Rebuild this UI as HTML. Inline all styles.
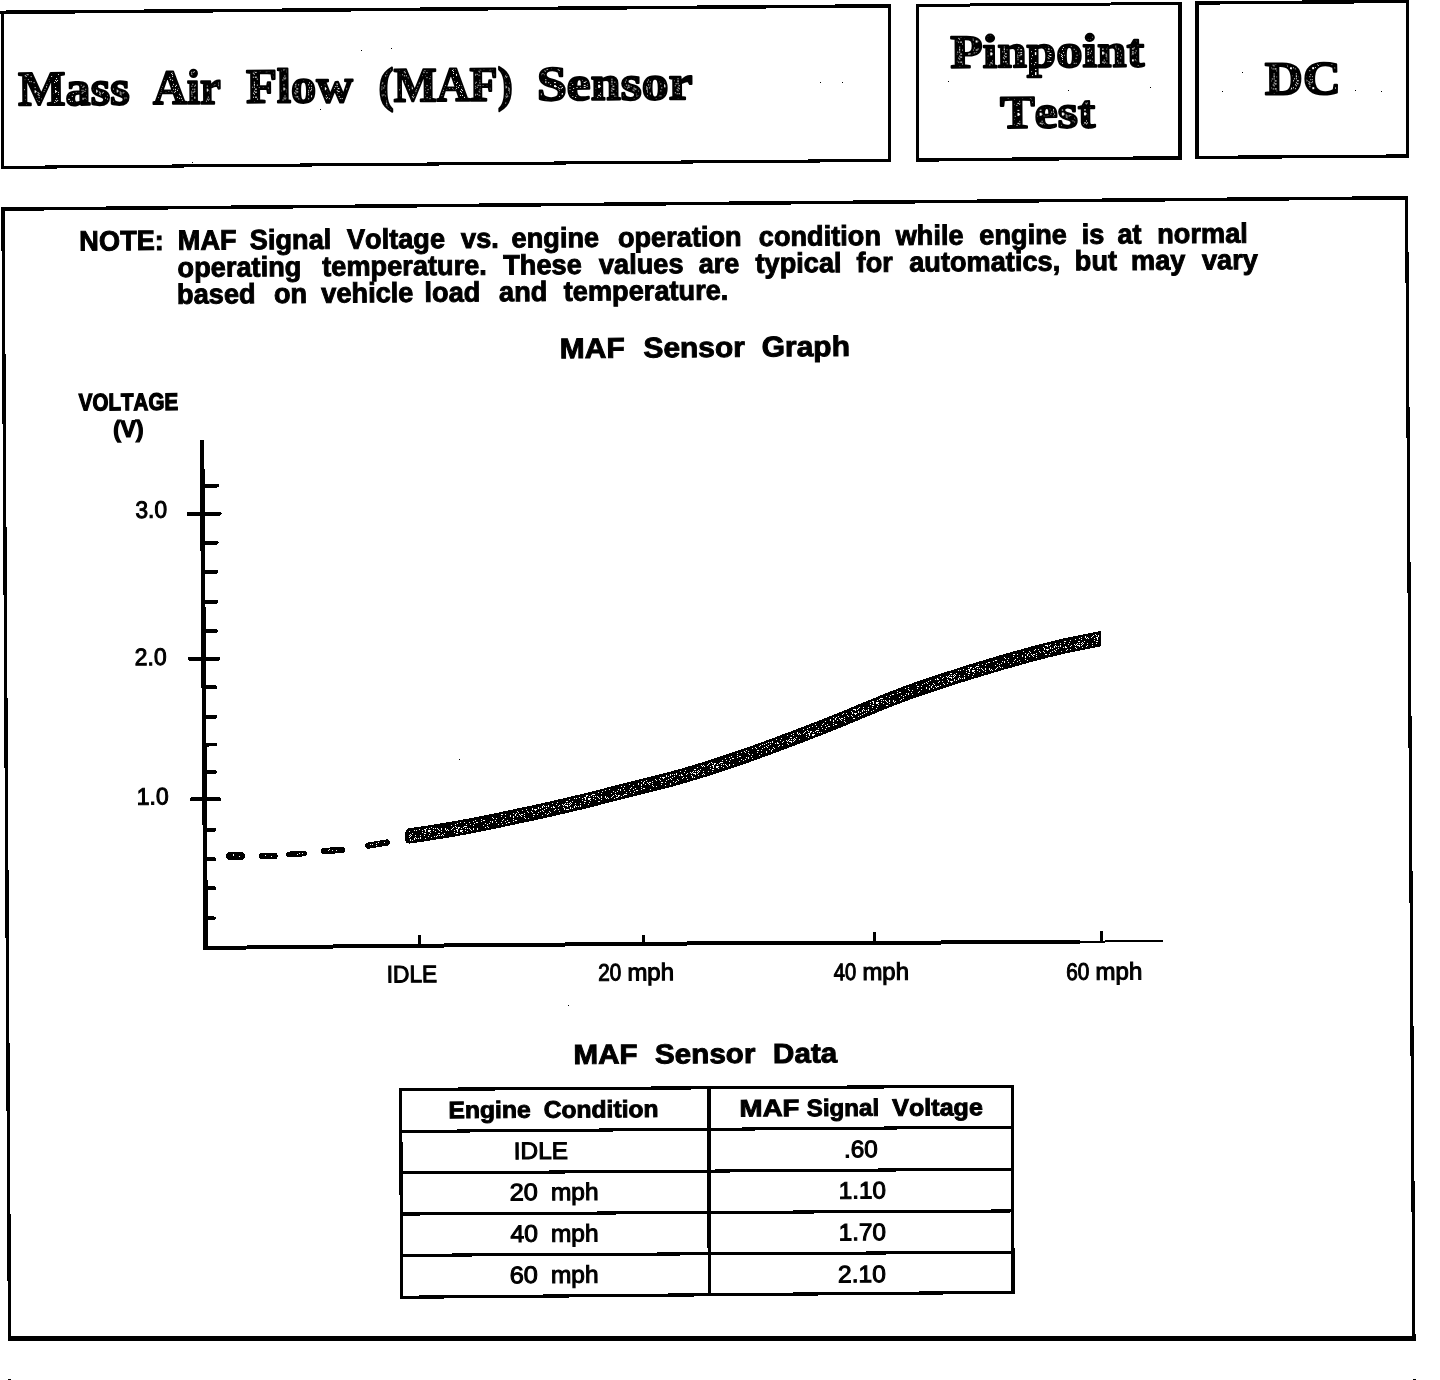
<!DOCTYPE html>
<html lang="en">
<head>
<meta charset="utf-8">
<title>Mass Air Flow (MAF) Sensor - Pinpoint Test DC</title>
<style>
html,body{margin:0;padding:0;background:#fff;}
body{width:1440px;height:1380px;overflow:hidden;}
svg{display:block;}
text{font-kerning:none;white-space:pre;}
.sb{font-family:"Liberation Sans", Arial, Helvetica, sans-serif;font-weight:700;stroke:#000;}
.sn{font-family:"Liberation Sans", Arial, Helvetica, sans-serif;font-weight:400;stroke:#000;}
.rb{font-family:"Liberation Serif", "Times New Roman", serif;font-weight:700;stroke:#000;stroke-linejoin:round;}
</style>
</head>
<body>
<svg width="1440" height="1380" viewBox="0 0 1440 1380" shape-rendering="crispEdges" text-rendering="geometricPrecision">
<defs>
<pattern id="sp1" width="32" height="32" patternUnits="userSpaceOnUse"><rect width="32" height="32" fill="#000"/><rect x="20" y="9" width="1" height="1" fill="#fff"/><rect x="25" y="3" width="1" height="1" fill="#fff"/><rect x="4" y="6" width="1" height="1" fill="#fff"/><rect x="23" y="3" width="1" height="1" fill="#fff"/><rect x="13" y="2" width="1" height="1" fill="#fff"/><rect x="5" y="27" width="1" height="1" fill="#fff"/><rect x="26" y="4" width="1" height="1" fill="#fff"/><rect x="15" y="5" width="1" height="1" fill="#fff"/><rect x="27" y="3" width="1" height="1" fill="#fff"/><rect x="7" y="14" width="1" height="1" fill="#fff"/><rect x="3" y="25" width="1" height="1" fill="#fff"/><rect x="3" y="14" width="1" height="1" fill="#fff"/><rect x="2" y="8" width="1" height="1" fill="#fff"/><rect x="18" y="26" width="1" height="1" fill="#fff"/><rect x="9" y="7" width="1" height="1" fill="#fff"/><rect x="19" y="11" width="1" height="1" fill="#fff"/><rect x="6" y="12" width="1" height="1" fill="#fff"/><rect x="23" y="6" width="1" height="1" fill="#fff"/><rect x="4" y="3" width="1" height="1" fill="#fff"/><rect x="13" y="31" width="1" height="1" fill="#fff"/><rect x="27" y="20" width="1" height="1" fill="#fff"/><rect x="29" y="29" width="1" height="1" fill="#fff"/><rect x="23" y="19" width="1" height="1" fill="#fff"/><rect x="15" y="11" width="1" height="1" fill="#fff"/><rect x="15" y="5" width="1" height="1" fill="#fff"/><rect x="19" y="31" width="1" height="1" fill="#fff"/><rect x="21" y="28" width="1" height="1" fill="#fff"/><rect x="18" y="4" width="1" height="1" fill="#fff"/><rect x="7" y="26" width="1" height="1" fill="#fff"/><rect x="10" y="21" width="1" height="1" fill="#fff"/><rect x="9" y="31" width="1" height="1" fill="#fff"/><rect x="26" y="2" width="1" height="1" fill="#fff"/><rect x="4" y="20" width="1" height="1" fill="#fff"/><rect x="21" y="22" width="1" height="1" fill="#fff"/><rect x="31" y="29" width="1" height="1" fill="#fff"/><rect x="4" y="5" width="1" height="1" fill="#fff"/><rect x="17" y="30" width="1" height="1" fill="#fff"/><rect x="4" y="3" width="1" height="1" fill="#fff"/><rect x="19" y="28" width="1" height="1" fill="#fff"/><rect x="18" y="24" width="1" height="1" fill="#fff"/><rect x="22" y="1" width="1" height="1" fill="#fff"/><rect x="29" y="22" width="1" height="1" fill="#fff"/><rect x="10" y="7" width="1" height="1" fill="#fff"/><rect x="31" y="3" width="1" height="1" fill="#fff"/><rect x="13" y="18" width="1" height="1" fill="#fff"/><rect x="8" y="15" width="1" height="1" fill="#fff"/><rect x="25" y="25" width="1" height="1" fill="#fff"/><rect x="31" y="5" width="1" height="1" fill="#fff"/><rect x="10" y="28" width="1" height="1" fill="#fff"/><rect x="25" y="17" width="1" height="1" fill="#fff"/><rect x="8" y="27" width="1" height="1" fill="#fff"/><rect x="17" y="26" width="1" height="1" fill="#fff"/><rect x="22" y="24" width="1" height="1" fill="#fff"/><rect x="14" y="9" width="1" height="1" fill="#fff"/><rect x="5" y="11" width="1" height="1" fill="#fff"/><rect x="9" y="14" width="1" height="1" fill="#fff"/><rect x="14" y="0" width="1" height="1" fill="#fff"/><rect x="31" y="11" width="1" height="1" fill="#fff"/><rect x="16" y="18" width="1" height="1" fill="#fff"/><rect x="0" y="9" width="1" height="1" fill="#fff"/><rect x="26" y="23" width="1" height="1" fill="#fff"/><rect x="20" y="8" width="1" height="1" fill="#fff"/><rect x="3" y="29" width="1" height="1" fill="#fff"/><rect x="25" y="25" width="1" height="1" fill="#fff"/><rect x="25" y="25" width="1" height="1" fill="#fff"/><rect x="6" y="30" width="1" height="1" fill="#fff"/><rect x="25" y="3" width="1" height="1" fill="#fff"/><rect x="12" y="4" width="1" height="1" fill="#fff"/><rect x="13" y="28" width="1" height="1" fill="#fff"/><rect x="10" y="7" width="1" height="1" fill="#fff"/><rect x="21" y="3" width="1" height="1" fill="#fff"/><rect x="6" y="0" width="1" height="1" fill="#fff"/><rect x="9" y="6" width="1" height="1" fill="#fff"/><rect x="23" y="1" width="1" height="1" fill="#fff"/><rect x="4" y="13" width="1" height="1" fill="#fff"/><rect x="24" y="9" width="1" height="1" fill="#fff"/><rect x="16" y="22" width="1" height="1" fill="#fff"/><rect x="23" y="30" width="1" height="1" fill="#fff"/><rect x="7" y="7" width="1" height="1" fill="#fff"/><rect x="31" y="29" width="1" height="1" fill="#fff"/><rect x="30" y="30" width="1" height="1" fill="#fff"/><rect x="19" y="5" width="1" height="1" fill="#fff"/><rect x="9" y="6" width="1" height="1" fill="#fff"/><rect x="21" y="16" width="1" height="1" fill="#fff"/><rect x="30" y="10" width="1" height="1" fill="#fff"/><rect x="1" y="13" width="1" height="1" fill="#fff"/><rect x="23" y="9" width="1" height="1" fill="#fff"/><rect x="1" y="19" width="1" height="1" fill="#fff"/><rect x="5" y="16" width="1" height="1" fill="#fff"/><rect x="23" y="10" width="1" height="1" fill="#fff"/><rect x="22" y="14" width="1" height="1" fill="#fff"/><rect x="21" y="14" width="1" height="1" fill="#fff"/><rect x="12" y="15" width="1" height="1" fill="#fff"/><rect x="25" y="14" width="1" height="1" fill="#fff"/><rect x="12" y="31" width="1" height="1" fill="#fff"/><rect x="22" y="1" width="1" height="1" fill="#fff"/><rect x="1" y="17" width="1" height="1" fill="#fff"/><rect x="30" y="16" width="1" height="1" fill="#fff"/><rect x="12" y="22" width="1" height="1" fill="#fff"/><rect x="28" y="22" width="1" height="1" fill="#fff"/><rect x="23" y="5" width="1" height="1" fill="#fff"/><rect x="14" y="6" width="1" height="1" fill="#fff"/><rect x="14" y="30" width="1" height="1" fill="#fff"/><rect x="12" y="21" width="1" height="1" fill="#fff"/><rect x="13" y="30" width="1" height="1" fill="#fff"/><rect x="0" y="30" width="1" height="1" fill="#fff"/><rect x="22" y="5" width="1" height="1" fill="#fff"/><rect x="7" y="24" width="1" height="1" fill="#fff"/><rect x="12" y="30" width="1" height="1" fill="#fff"/><rect x="11" y="27" width="1" height="1" fill="#fff"/><rect x="21" y="5" width="1" height="1" fill="#fff"/><rect x="25" y="29" width="1" height="1" fill="#fff"/><rect x="25" y="5" width="1" height="1" fill="#fff"/><rect x="10" y="10" width="1" height="1" fill="#fff"/><rect x="8" y="1" width="1" height="1" fill="#fff"/><rect x="9" y="29" width="1" height="1" fill="#fff"/><rect x="9" y="30" width="1" height="1" fill="#fff"/><rect x="22" y="9" width="1" height="1" fill="#fff"/><rect x="8" y="1" width="1" height="1" fill="#fff"/><rect x="0" y="6" width="1" height="1" fill="#fff"/><rect x="8" y="27" width="1" height="1" fill="#fff"/><rect x="12" y="13" width="1" height="1" fill="#fff"/><rect x="1" y="16" width="1" height="1" fill="#fff"/><rect x="13" y="18" width="1" height="1" fill="#fff"/><rect x="15" y="20" width="1" height="1" fill="#fff"/><rect x="16" y="26" width="1" height="1" fill="#fff"/><rect x="8" y="3" width="1" height="1" fill="#fff"/><rect x="22" y="29" width="1" height="1" fill="#fff"/><rect x="26" y="8" width="1" height="1" fill="#fff"/><rect x="9" y="1" width="1" height="1" fill="#fff"/><rect x="28" y="11" width="1" height="1" fill="#fff"/><rect x="0" y="9" width="1" height="1" fill="#fff"/><rect x="11" y="9" width="1" height="1" fill="#fff"/><rect x="30" y="7" width="1" height="1" fill="#fff"/><rect x="3" y="20" width="1" height="1" fill="#fff"/><rect x="30" y="6" width="1" height="1" fill="#fff"/><rect x="3" y="15" width="1" height="1" fill="#fff"/><rect x="12" y="17" width="1" height="1" fill="#fff"/><rect x="2" y="6" width="1" height="1" fill="#fff"/><rect x="28" y="1" width="1" height="1" fill="#fff"/><rect x="4" y="28" width="1" height="1" fill="#fff"/><rect x="20" y="12" width="1" height="1" fill="#fff"/><rect x="17" y="28" width="1" height="1" fill="#fff"/><rect x="30" y="15" width="1" height="1" fill="#fff"/><rect x="16" y="12" width="1" height="1" fill="#fff"/><rect x="28" y="8" width="1" height="1" fill="#fff"/><rect x="26" y="7" width="1" height="1" fill="#fff"/><rect x="25" y="28" width="1" height="1" fill="#fff"/><rect x="20" y="4" width="1" height="1" fill="#fff"/><rect x="15" y="27" width="1" height="1" fill="#fff"/><rect x="4" y="13" width="1" height="1" fill="#fff"/><rect x="19" y="7" width="1" height="1" fill="#fff"/><rect x="9" y="23" width="1" height="1" fill="#fff"/><rect x="9" y="16" width="1" height="1" fill="#fff"/><rect x="8" y="29" width="1" height="1" fill="#fff"/><rect x="14" y="6" width="1" height="1" fill="#fff"/><rect x="25" y="31" width="1" height="1" fill="#fff"/><rect x="10" y="14" width="1" height="1" fill="#fff"/><rect x="10" y="27" width="1" height="1" fill="#fff"/><rect x="25" y="21" width="1" height="1" fill="#fff"/><rect x="26" y="12" width="1" height="1" fill="#fff"/><rect x="22" y="20" width="1" height="1" fill="#fff"/><rect x="5" y="23" width="1" height="1" fill="#fff"/><rect x="1" y="21" width="1" height="1" fill="#fff"/><rect x="29" y="28" width="1" height="1" fill="#fff"/></pattern>
<pattern id="sp2" width="20" height="20" patternUnits="userSpaceOnUse"><rect width="20" height="20" fill="#000"/><rect x="0" y="12" width="1" height="1" fill="#fff"/><rect x="10" y="16" width="1" height="1" fill="#fff"/><rect x="19" y="9" width="1" height="1" fill="#fff"/><rect x="16" y="2" width="1" height="1" fill="#fff"/><rect x="3" y="7" width="1" height="1" fill="#fff"/><rect x="3" y="2" width="1" height="1" fill="#fff"/><rect x="8" y="8" width="1" height="1" fill="#fff"/><rect x="1" y="5" width="1" height="1" fill="#fff"/><rect x="8" y="4" width="1" height="1" fill="#fff"/><rect x="13" y="8" width="1" height="1" fill="#fff"/><rect x="12" y="4" width="1" height="1" fill="#fff"/><rect x="17" y="16" width="1" height="1" fill="#fff"/><rect x="18" y="15" width="1" height="1" fill="#fff"/><rect x="10" y="2" width="1" height="1" fill="#fff"/><rect x="8" y="1" width="1" height="1" fill="#fff"/><rect x="5" y="13" width="1" height="1" fill="#fff"/><rect x="2" y="8" width="1" height="1" fill="#fff"/><rect x="0" y="2" width="1" height="1" fill="#fff"/><rect x="8" y="2" width="1" height="1" fill="#fff"/><rect x="19" y="7" width="1" height="1" fill="#fff"/><rect x="2" y="8" width="1" height="1" fill="#fff"/><rect x="3" y="14" width="1" height="1" fill="#fff"/><rect x="0" y="10" width="1" height="1" fill="#fff"/><rect x="17" y="13" width="1" height="1" fill="#fff"/><rect x="8" y="19" width="1" height="1" fill="#fff"/><rect x="4" y="1" width="1" height="1" fill="#fff"/><rect x="16" y="7" width="1" height="1" fill="#fff"/><rect x="3" y="5" width="1" height="1" fill="#fff"/><rect x="8" y="1" width="1" height="1" fill="#fff"/><rect x="5" y="6" width="1" height="1" fill="#fff"/><rect x="9" y="9" width="1" height="1" fill="#fff"/><rect x="16" y="6" width="1" height="1" fill="#fff"/><rect x="9" y="14" width="1" height="1" fill="#fff"/><rect x="16" y="5" width="1" height="1" fill="#fff"/><rect x="8" y="11" width="1" height="1" fill="#fff"/><rect x="0" y="8" width="1" height="1" fill="#fff"/><rect x="1" y="0" width="1" height="1" fill="#fff"/><rect x="0" y="16" width="1" height="1" fill="#fff"/><rect x="17" y="6" width="1" height="1" fill="#fff"/><rect x="16" y="15" width="1" height="1" fill="#fff"/><rect x="7" y="14" width="1" height="1" fill="#fff"/><rect x="3" y="13" width="1" height="1" fill="#fff"/><rect x="15" y="17" width="1" height="1" fill="#fff"/><rect x="12" y="16" width="1" height="1" fill="#fff"/><rect x="9" y="6" width="1" height="1" fill="#fff"/><rect x="7" y="10" width="1" height="1" fill="#fff"/><rect x="6" y="4" width="1" height="1" fill="#fff"/><rect x="12" y="11" width="1" height="1" fill="#fff"/></pattern>
<pattern id="sp3" width="16" height="16" patternUnits="userSpaceOnUse"><rect width="16" height="16" fill="#000"/><rect x="1" y="4" width="1" height="1" fill="#fff"/><rect x="0" y="2" width="1" height="1" fill="#fff"/><rect x="8" y="13" width="1" height="1" fill="#fff"/><rect x="5" y="1" width="1" height="1" fill="#fff"/><rect x="2" y="12" width="1" height="1" fill="#fff"/><rect x="9" y="7" width="1" height="1" fill="#fff"/><rect x="9" y="1" width="1" height="1" fill="#fff"/><rect x="14" y="5" width="1" height="1" fill="#fff"/><rect x="5" y="8" width="1" height="1" fill="#fff"/><rect x="14" y="0" width="1" height="1" fill="#fff"/><rect x="8" y="11" width="1" height="1" fill="#fff"/><rect x="10" y="10" width="1" height="1" fill="#fff"/><rect x="7" y="1" width="1" height="1" fill="#fff"/><rect x="9" y="6" width="1" height="1" fill="#fff"/><rect x="11" y="5" width="1" height="1" fill="#fff"/><rect x="0" y="10" width="1" height="1" fill="#fff"/><rect x="12" y="2" width="1" height="1" fill="#fff"/><rect x="15" y="8" width="1" height="1" fill="#fff"/><rect x="6" y="7" width="1" height="1" fill="#fff"/><rect x="0" y="2" width="1" height="1" fill="#fff"/><rect x="8" y="2" width="1" height="1" fill="#fff"/><rect x="4" y="12" width="1" height="1" fill="#fff"/></pattern>
</defs>
<rect width="1440" height="1380" fill="#fff"/>
<g id="lines">
<line x1="2.30" y1="10.70" x2="2.60" y2="169.00" stroke="#000" stroke-width="3.6" stroke-linecap="butt"/>
<line x1="0.00" y1="12.30" x2="890.80" y2="5.85" stroke="#000" stroke-width="3.5" stroke-linecap="butt"/>
<line x1="889.40" y1="3.90" x2="889.50" y2="161.90" stroke="#000" stroke-width="2.9" stroke-linecap="butt"/>
<line x1="1.00" y1="167.40" x2="891.00" y2="160.40" stroke="#000" stroke-width="3.1" stroke-linecap="butt"/>
<line x1="917.50" y1="3.90" x2="917.60" y2="161.90" stroke="#000" stroke-width="3" stroke-linecap="butt"/>
<line x1="916.00" y1="5.40" x2="1182.00" y2="3.50" stroke="#000" stroke-width="3" stroke-linecap="butt"/>
<line x1="1180.00" y1="2.00" x2="1180.00" y2="160.00" stroke="#000" stroke-width="3.9" stroke-linecap="butt"/>
<line x1="916.10" y1="160.00" x2="1182.00" y2="157.80" stroke="#000" stroke-width="3.4" stroke-linecap="butt"/>
<line x1="1196.95" y1="1.00" x2="1196.95" y2="159.00" stroke="#000" stroke-width="3.9" stroke-linecap="butt"/>
<line x1="1195.00" y1="3.00" x2="1409.00" y2="1.40" stroke="#000" stroke-width="3.4" stroke-linecap="butt"/>
<line x1="1407.50" y1="0.00" x2="1407.50" y2="158.00" stroke="#000" stroke-width="3" stroke-linecap="butt"/>
<line x1="1195.00" y1="157.45" x2="1409.00" y2="156.00" stroke="#000" stroke-width="3.3" stroke-linecap="butt"/>
<line x1="1.00" y1="209.10" x2="1408.20" y2="197.80" stroke="#000" stroke-width="3.5" stroke-linecap="butt"/>
<line x1="2.95" y1="207.30" x2="9.55" y2="1340.70" stroke="#000" stroke-width="3.4" stroke-linecap="butt"/>
<line x1="1406.55" y1="196.00" x2="1413.95" y2="1340.70" stroke="#000" stroke-width="3.2" stroke-linecap="butt"/>
<line x1="8.00" y1="1338.25" x2="1415.70" y2="1338.25" stroke="#000" stroke-width="4.9" stroke-linecap="butt"/>
<line x1="9.50" y1="1378.60" x2="9.50" y2="1380.00" stroke="#000" stroke-width="3" stroke-linecap="butt"/>
<line x1="1414.50" y1="1378.60" x2="1414.50" y2="1380.00" stroke="#000" stroke-width="3" stroke-linecap="butt"/>
<line x1="202.00" y1="440.00" x2="205.72" y2="950.00" stroke="#000" stroke-width="4.6" stroke-linecap="butt"/>
<path d="M203.5 948 L360 946.2 L700 943.4 L1080 942" fill="none" stroke="#000" stroke-width="4"/>
<line x1="1078.00" y1="941.60" x2="1162.50" y2="941.30" stroke="#000" stroke-width="2" stroke-linecap="round"/>
<line x1="202.33" y1="485.80" x2="217.19" y2="485.70" stroke="#000" stroke-width="3.7" stroke-linecap="round"/>
<line x1="202.75" y1="542.80" x2="216.76" y2="542.70" stroke="#000" stroke-width="3.7" stroke-linecap="round"/>
<line x1="202.96" y1="572.00" x2="216.54" y2="571.90" stroke="#000" stroke-width="3.7" stroke-linecap="round"/>
<line x1="203.18" y1="602.00" x2="216.31" y2="601.90" stroke="#000" stroke-width="3.7" stroke-linecap="round"/>
<line x1="203.40" y1="631.20" x2="216.09" y2="631.10" stroke="#000" stroke-width="3.7" stroke-linecap="round"/>
<line x1="203.80" y1="687.20" x2="215.66" y2="687.10" stroke="#000" stroke-width="3.7" stroke-linecap="round"/>
<line x1="204.02" y1="717.00" x2="215.43" y2="716.90" stroke="#000" stroke-width="3.7" stroke-linecap="round"/>
<line x1="204.22" y1="744.70" x2="215.22" y2="744.60" stroke="#000" stroke-width="3.7" stroke-linecap="round"/>
<line x1="204.42" y1="772.00" x2="215.01" y2="771.90" stroke="#000" stroke-width="3.7" stroke-linecap="round"/>
<line x1="204.85" y1="830.00" x2="214.57" y2="829.90" stroke="#000" stroke-width="3.7" stroke-linecap="round"/>
<line x1="205.06" y1="859.20" x2="214.35" y2="859.10" stroke="#000" stroke-width="3.7" stroke-linecap="round"/>
<line x1="205.27" y1="888.30" x2="214.13" y2="888.20" stroke="#000" stroke-width="3.7" stroke-linecap="round"/>
<line x1="205.49" y1="918.30" x2="213.90" y2="918.20" stroke="#000" stroke-width="3.7" stroke-linecap="round"/>
<line x1="188.40" y1="514.00" x2="219.70" y2="513.80" stroke="#000" stroke-width="3.9" stroke-linecap="round"/>
<line x1="189.80" y1="658.90" x2="218.20" y2="658.70" stroke="#000" stroke-width="3.9" stroke-linecap="round"/>
<line x1="191.50" y1="799.30" x2="219.30" y2="799.10" stroke="#000" stroke-width="3.9" stroke-linecap="round"/>
<line x1="419.50" y1="934.50" x2="419.50" y2="946.00" stroke="#000" stroke-width="3" stroke-linecap="butt"/>
<line x1="643.50" y1="934.50" x2="643.50" y2="944.00" stroke="#000" stroke-width="3" stroke-linecap="butt"/>
<line x1="874.50" y1="932.00" x2="874.50" y2="942.50" stroke="#000" stroke-width="3" stroke-linecap="butt"/>
<line x1="1101.50" y1="931.25" x2="1101.50" y2="942.00" stroke="#000" stroke-width="3" stroke-linecap="butt"/>
<line x1="230.00" y1="856.00" x2="241.00" y2="856.00" stroke="#000" stroke-width="8" stroke-linecap="round"/>
<line x1="231.00" y1="856.00" x2="240.00" y2="856.00" stroke="url(#sp3)" stroke-width="4.6" stroke-linecap="butt"/>
<line x1="262.10" y1="856.00" x2="274.65" y2="856.00" stroke="#000" stroke-width="6.2" stroke-linecap="round"/>
<line x1="263.10" y1="856.00" x2="273.65" y2="856.00" stroke="url(#sp3)" stroke-width="2.8" stroke-linecap="butt"/>
<line x1="288.80" y1="854.40" x2="304.20" y2="853.60" stroke="#000" stroke-width="5.6" stroke-linecap="round"/>
<line x1="289.80" y1="854.40" x2="303.20" y2="853.60" stroke="url(#sp3)" stroke-width="2.2" stroke-linecap="butt"/>
<line x1="324.20" y1="851.25" x2="341.80" y2="849.75" stroke="#000" stroke-width="6.4" stroke-linecap="round"/>
<line x1="325.20" y1="851.25" x2="340.80" y2="849.75" stroke="url(#sp3)" stroke-width="3.0" stroke-linecap="butt"/>
<line x1="368.10" y1="845.60" x2="386.90" y2="842.50" stroke="#000" stroke-width="6.2" stroke-linecap="round"/>
<line x1="369.10" y1="845.60" x2="385.90" y2="842.50" stroke="url(#sp3)" stroke-width="2.8" stroke-linecap="butt"/>
<path d="M409.1 829.4 L411.5 829.1 L416.5 828.4 L421.5 827.6 L426.5 826.9 L431.4 826.1 L436.4 825.3 L441.4 824.5 L446.4 823.7 L451.4 822.9 L456.4 822.0 L461.4 821.1 L466.4 820.2 L471.3 819.3 L476.3 818.3 L481.3 817.3 L486.3 816.3 L491.3 815.3 L496.3 814.2 L501.3 813.2 L506.3 812.1 L511.2 811.1 L516.2 810.0 L521.2 808.9 L526.2 807.9 L531.2 806.8 L536.2 805.7 L541.2 804.6 L546.2 803.5 L551.1 802.4 L556.1 801.2 L561.1 800.1 L566.1 798.9 L571.1 797.8 L576.1 796.6 L581.1 795.4 L586.1 794.2 L591.0 793.0 L596.0 791.7 L601.0 790.4 L606.0 789.1 L611.0 787.7 L616.0 786.4 L621.0 785.2 L626.0 783.9 L630.9 782.7 L635.9 781.5 L640.9 780.3 L645.9 779.0 L650.9 777.8 L655.9 776.6 L660.9 775.3 L665.9 774.0 L670.9 772.7 L675.8 771.4 L680.8 770.0 L685.8 768.5 L690.8 767.0 L695.8 765.5 L700.8 764.0 L705.8 762.5 L710.8 760.9 L715.7 759.3 L720.7 757.7 L725.7 756.0 L730.7 754.3 L735.7 752.7 L740.7 751.0 L745.7 749.2 L750.7 747.5 L755.6 745.7 L760.6 743.9 L765.6 742.1 L770.6 740.2 L775.6 738.4 L780.6 736.5 L785.6 734.6 L790.6 732.8 L795.5 730.9 L800.5 729.0 L805.5 727.1 L810.5 725.2 L815.5 723.2 L820.5 721.3 L825.5 719.3 L830.5 717.3 L835.4 715.3 L840.4 713.3 L845.4 711.3 L850.4 709.2 L855.4 707.1 L860.4 705.0 L865.4 703.0 L870.4 700.9 L875.4 698.9 L880.3 696.8 L885.3 694.8 L890.3 692.8 L895.3 690.9 L900.3 689.0 L905.3 687.1 L910.3 685.3 L915.3 683.5 L920.2 681.8 L925.2 680.1 L930.2 678.4 L935.2 676.8 L940.2 675.1 L945.2 673.5 L950.2 671.9 L955.2 670.3 L960.1 668.7 L965.1 667.1 L970.1 665.5 L975.1 664.0 L980.1 662.5 L985.1 661.0 L990.1 659.5 L995.1 658.0 L1000.0 656.6 L1005.0 655.1 L1010.0 653.7 L1015.0 652.3 L1020.0 650.9 L1025.0 649.5 L1030.0 648.1 L1035.0 646.8 L1039.9 645.5 L1044.9 644.2 L1049.9 642.9 L1054.9 641.7 L1059.9 640.5 L1064.9 639.4 L1069.9 638.3 L1074.9 637.3 L1079.8 636.3 L1084.8 635.3 L1089.8 634.3 L1094.8 633.3 L1099.8 632.3 L1099.8 645.3 L1094.8 646.3 L1089.8 647.3 L1084.8 648.3 L1079.8 649.3 L1074.9 650.3 L1069.9 651.3 L1064.9 652.4 L1059.9 653.5 L1054.9 654.7 L1049.9 655.9 L1044.9 657.2 L1039.9 658.5 L1035.0 659.8 L1030.0 661.1 L1025.0 662.5 L1020.0 663.9 L1015.0 665.3 L1010.0 666.7 L1005.0 668.1 L1000.0 669.6 L995.1 671.0 L990.1 672.5 L985.1 674.0 L980.1 675.5 L975.1 677.0 L970.1 678.5 L965.1 680.1 L960.1 681.7 L955.2 683.3 L950.2 684.9 L945.2 686.5 L940.2 688.1 L935.2 689.8 L930.2 691.4 L925.2 693.1 L920.2 694.8 L915.3 696.5 L910.3 698.3 L905.3 700.1 L900.3 702.0 L895.3 703.9 L890.3 705.8 L885.3 707.8 L880.3 709.8 L875.4 711.9 L870.4 713.9 L865.4 716.0 L860.4 718.0 L855.4 720.1 L850.4 722.2 L845.4 724.3 L840.4 726.3 L835.4 728.3 L830.5 730.3 L825.5 732.3 L820.5 734.3 L815.5 736.2 L810.5 738.2 L805.5 740.1 L800.5 742.0 L795.5 743.9 L790.6 745.8 L785.6 747.6 L780.6 749.5 L775.6 751.4 L770.6 753.2 L765.6 755.1 L760.6 756.9 L755.6 758.7 L750.7 760.5 L745.7 762.2 L740.7 764.0 L735.7 765.7 L730.7 767.3 L725.7 769.0 L720.7 770.7 L715.7 772.3 L710.8 773.9 L705.8 775.5 L700.8 777.0 L695.8 778.5 L690.8 780.0 L685.8 781.5 L680.8 783.0 L675.8 784.4 L670.9 785.7 L665.9 787.0 L660.9 788.3 L655.9 789.6 L650.9 790.8 L645.9 792.0 L640.9 793.3 L635.9 794.5 L630.9 795.7 L626.0 796.9 L621.0 798.2 L616.0 799.4 L611.0 800.7 L606.0 802.1 L601.0 803.4 L596.0 804.7 L591.0 806.0 L586.1 807.2 L581.1 808.4 L576.1 809.6 L571.1 810.8 L566.1 811.9 L561.1 813.1 L556.1 814.2 L551.1 815.4 L546.2 816.5 L541.2 817.6 L536.2 818.7 L531.2 819.8 L526.2 820.9 L521.2 821.9 L516.2 823.0 L511.2 824.1 L506.3 825.1 L501.3 826.2 L496.3 827.2 L491.3 828.3 L486.3 829.3 L481.3 830.3 L476.3 831.3 L471.3 832.3 L466.4 833.2 L461.4 834.1 L456.4 835.0 L451.4 835.9 L446.4 836.7 L441.4 837.5 L436.4 838.3 L431.4 839.1 L426.5 839.9 L421.5 840.6 L416.5 841.4 L411.5 842.1 L409.1 842.4 L407.3 842.0 L406.5 840.1 L406.5 832.5 L407.3 830.6 Z" fill="url(#sp1)" stroke="#000" stroke-width="2.4" stroke-linejoin="round"/>
<path d="M400.70 1089.40 L1012.20 1086.25 L1013.10 1292.35 L401.50 1297.25 Z" fill="none" stroke="#000" stroke-width="3.2" stroke-linejoin="miter"/>
<line x1="709.00" y1="1088.20" x2="709.40" y2="1295.40" stroke="#000" stroke-width="3.6" stroke-linecap="butt"/>
<line x1="401.00" y1="1131.45" x2="1012.80" y2="1127.15" stroke="#000" stroke-width="3.1" stroke-linecap="butt"/>
<line x1="401.00" y1="1172.95" x2="1012.80" y2="1169.25" stroke="#000" stroke-width="3.1" stroke-linecap="butt"/>
<line x1="401.00" y1="1214.05" x2="1012.80" y2="1210.95" stroke="#000" stroke-width="3.1" stroke-linecap="butt"/>
<line x1="401.00" y1="1255.30" x2="1012.80" y2="1252.35" stroke="#000" stroke-width="3.1" stroke-linecap="butt"/>
</g>
<g id="specks"><rect x="361" y="50" width="1" height="1" fill="#000"/><rect x="391" y="48" width="1" height="1" fill="#000"/><rect x="320" y="109" width="1" height="1" fill="#000"/><rect x="192" y="162" width="1" height="1" fill="#000"/><rect x="820" y="82" width="1" height="1" fill="#000"/><rect x="842" y="82" width="1" height="1" fill="#000"/><rect x="948" y="81" width="1" height="1" fill="#000"/><rect x="1068" y="90" width="1" height="1" fill="#000"/><rect x="1150" y="87" width="1" height="1" fill="#000"/><rect x="1222" y="91" width="1" height="1" fill="#000"/><rect x="1242" y="72" width="1" height="1" fill="#000"/><rect x="1355" y="90" width="1" height="1" fill="#000"/><rect x="1381" y="91" width="1" height="1" fill="#000"/><rect x="459" y="759" width="1" height="1" fill="#000"/><rect x="568" y="1005" width="1" height="1" fill="#000"/></g>
<g id="labels">
<g><text class="rb" font-size="48.95" stroke-width="2.0" transform="translate(18.14 105.25) rotate(-0.41) scale(1.0259 1)" fill="url(#sp2)">Mass</text>
<text class="rb" font-size="48.95" stroke-width="2.0" transform="translate(153.04 104.00) rotate(-0.41) scale(0.9618 1)" fill="url(#sp2)">Air</text>
<text class="rb" font-size="48.95" stroke-width="2.0" transform="translate(246.13 102.75) rotate(-0.41) scale(1.0345 1)" fill="url(#sp2)">Flow</text>
<text class="rb" font-size="48.95" stroke-width="2.0" transform="translate(378.49 101.50) rotate(-0.41) scale(0.9339 1)" fill="url(#sp2)">(MAF)</text>
<text class="rb" font-size="48.95" stroke-width="2.0" transform="translate(536.88 100.25) rotate(-0.41) scale(1.1016 1)" fill="url(#sp2)">Sensor</text></g>
<text class="rb" font-size="47.35" stroke-width="2.0" transform="translate(950.60 67.70) rotate(-0.41) scale(1.1150 1)" fill="url(#sp2)">Pinpoint</text>
<text class="rb" font-size="46.75" stroke-width="2.0" transform="translate(1000.19 128.00) rotate(-0.41) scale(1.1091 1)" fill="url(#sp2)">Test</text>
<text class="rb" font-size="47.35" stroke-width="2.0" transform="translate(1265.08 94.50) rotate(-0.41) scale(1.1103 1)" fill="url(#sp2)">DC</text>
<g><text class="sb" font-size="27.92" stroke-width="0.95" transform="translate(79.36 250.52) rotate(-0.41) scale(0.9739 1)">NOTE:</text>
<text class="sb" font-size="27.92" stroke-width="0.95" transform="translate(177.79 249.85) rotate(-0.41) scale(0.9739 1)">MAF</text>
<text class="sb" font-size="27.92" stroke-width="0.95" transform="translate(249.78 249.37) rotate(-0.41) scale(0.9739 1)">Signal</text>
<text class="sb" font-size="27.92" stroke-width="0.95" transform="translate(346.90 248.72) rotate(-0.41) scale(0.9739 1)">Voltage</text>
<text class="sb" font-size="27.92" stroke-width="0.95" transform="translate(461.11 247.95) rotate(-0.41) scale(0.9739 1)">vs.</text>
<text class="sb" font-size="27.92" stroke-width="0.95" transform="translate(511.62 247.60) rotate(-0.41) scale(0.9739 1)">engine</text>
<text class="sb" font-size="27.92" stroke-width="0.95" transform="translate(617.88 246.88) rotate(-0.41) scale(0.9739 1)">operation</text>
<text class="sb" font-size="27.92" stroke-width="0.95" transform="translate(758.77 245.93) rotate(-0.41) scale(0.9739 1)">condition</text>
<text class="sb" font-size="27.92" stroke-width="0.95" transform="translate(895.64 245.01) rotate(-0.41) scale(0.9739 1)">while</text>
<text class="sb" font-size="27.92" stroke-width="0.95" transform="translate(979.37 244.43) rotate(-0.41) scale(0.9739 1)">engine</text>
<text class="sb" font-size="27.92" stroke-width="0.95" transform="translate(1081.77 243.73) rotate(-0.41) scale(0.9739 1)">is</text>
<text class="sb" font-size="27.92" stroke-width="0.95" transform="translate(1117.48 243.50) rotate(-0.41) scale(0.9739 1)">at</text>
<text class="sb" font-size="27.92" stroke-width="0.95" transform="translate(1157.24 243.22) rotate(-0.41) scale(0.9739 1)">normal</text></g>
<g><text class="sb" font-size="27.92" stroke-width="0.95" transform="translate(177.60 276.94) rotate(-0.41) scale(0.9739 1)">operating</text>
<text class="sb" font-size="27.92" stroke-width="0.95" transform="translate(322.27 275.88) rotate(-0.41) scale(0.9739 1)">temperature.</text>
<text class="sb" font-size="27.92" stroke-width="0.95" transform="translate(503.22 274.56) rotate(-0.41) scale(0.9739 1)">These</text>
<text class="sb" font-size="27.92" stroke-width="0.95" transform="translate(598.93 273.86) rotate(-0.41) scale(0.9739 1)">values</text>
<text class="sb" font-size="27.92" stroke-width="0.95" transform="translate(698.65 273.12) rotate(-0.41) scale(0.9739 1)">are</text>
<text class="sb" font-size="27.92" stroke-width="0.95" transform="translate(755.48 272.71) rotate(-0.41) scale(0.9739 1)">typical</text>
<text class="sb" font-size="27.92" stroke-width="0.95" transform="translate(856.60 271.97) rotate(-0.41) scale(0.9739 1)">for</text>
<text class="sb" font-size="27.92" stroke-width="0.95" transform="translate(909.21 271.58) rotate(-0.41) scale(0.9739 1)">automatics,</text>
<text class="sb" font-size="27.92" stroke-width="0.95" transform="translate(1074.78 270.36) rotate(-0.41) scale(0.9739 1)">but</text>
<text class="sb" font-size="27.92" stroke-width="0.95" transform="translate(1130.97 269.95) rotate(-0.41) scale(0.9739 1)">may</text>
<text class="sb" font-size="27.92" stroke-width="0.95" transform="translate(1201.92 269.44) rotate(-0.41) scale(0.9739 1)">vary</text></g>
<g><text class="sb" font-size="27.92" stroke-width="0.95" transform="translate(177.08 303.74) rotate(-0.41) scale(0.9739 1)">based</text>
<text class="sb" font-size="27.92" stroke-width="0.95" transform="translate(273.95 303.00) rotate(-0.41) scale(0.9739 1)">on</text>
<text class="sb" font-size="27.92" stroke-width="0.95" transform="translate(321.31 302.64) rotate(-0.41) scale(0.9739 1)">vehicle</text>
<text class="sb" font-size="27.92" stroke-width="0.95" transform="translate(424.50 301.84) rotate(-0.41) scale(0.9739 1)">load</text>
<text class="sb" font-size="27.92" stroke-width="0.95" transform="translate(499.03 301.27) rotate(-0.41) scale(0.9739 1)">and</text>
<text class="sb" font-size="27.92" stroke-width="0.95" transform="translate(563.77 300.78) rotate(-0.41) scale(0.9739 1)">temperature.</text></g>
<g><text class="sb" font-size="28.42" stroke-width="0.95" transform="translate(559.85 358.14) rotate(-0.41) scale(1.0543 1)">MAF</text>
<text class="sb" font-size="28.42" stroke-width="0.95" transform="translate(643.41 357.47) rotate(-0.41) scale(1.0543 1)">Sensor</text>
<text class="sb" font-size="28.42" stroke-width="0.95" transform="translate(761.75 356.51) rotate(-0.41) scale(1.0543 1)">Graph</text></g>
<text class="sb" font-size="23.91" stroke-width="1.3" transform="translate(78.81 410.55) rotate(-0.41) scale(0.8596 1)">VOLTAGE</text>
<text class="sb" font-size="23.51" stroke-width="1.3" transform="translate(113.22 437.15) rotate(-0.41) scale(0.9656 1)">(V)</text>
<text class="sn" font-size="23.97" stroke-width="1.05" transform="translate(135.46 517.93) rotate(-0.41) scale(0.9483 1)">3.0</text>
<text class="sn" font-size="23.97" stroke-width="1.05" transform="translate(134.87 665.23) rotate(-0.41) scale(0.9540 1)">2.0</text>
<text class="sn" font-size="23.97" stroke-width="1.05" transform="translate(136.78 804.63) rotate(-0.41) scale(0.9570 1)">1.0</text>
<text class="sn" font-size="23.97" stroke-width="1.05" transform="translate(386.63 982.43) rotate(-0.41) scale(0.9490 1)">IDLE</text>
<g><text class="sn" font-size="23.97" stroke-width="1.05" transform="translate(598.23 980.68) rotate(-0.41) scale(0.8655 1)">20</text> <text class="sn" font-size="23.97" stroke-width="1.05" transform="translate(627.38 980.48) rotate(-0.41) scale(1.0003 1)">mph</text></g>
<g><text class="sn" font-size="23.97" stroke-width="1.05" transform="translate(833.81 980.13) rotate(-0.41) scale(0.8429 1)">40</text> <text class="sn" font-size="23.97" stroke-width="1.05" transform="translate(862.38 979.93) rotate(-0.41) scale(1.0003 1)">mph</text></g>
<g><text class="sn" font-size="23.97" stroke-width="1.05" transform="translate(1066.22 979.93) rotate(-0.41) scale(0.8690 1)">60</text> <text class="sn" font-size="23.97" stroke-width="1.05" transform="translate(1095.48 979.73) rotate(-0.41) scale(1.0037 1)">mph</text></g>
<g><text class="sb" font-size="27.62" stroke-width="0.95" transform="translate(573.49 1064.03) rotate(-0.41) scale(1.0717 1)">MAF</text>
<text class="sb" font-size="27.62" stroke-width="0.95" transform="translate(655.12 1063.56) rotate(-0.41) scale(1.0717 1)">Sensor</text>
<text class="sb" font-size="27.62" stroke-width="0.95" transform="translate(773.09 1062.88) rotate(-0.41) scale(1.0717 1)">Data</text></g>
<g><text class="sb" font-size="23.82" stroke-width="0.95" transform="translate(448.52 1118.23) rotate(-0.41) scale(1.0347 1)">Engine</text>
<text class="sb" font-size="23.82" stroke-width="0.95" transform="translate(543.65 1117.77) rotate(-0.41) scale(1.0347 1)">Condition</text></g>
<g><text class="sb" font-size="23.82" stroke-width="0.95" transform="translate(739.62 1116.53) rotate(-0.41) scale(1.1613 1)">MAF</text> <text class="sb" font-size="23.82" stroke-width="0.95" transform="translate(806.78 1116.23) rotate(-0.41) scale(1.0138 1)">Signal</text> <text class="sb" font-size="23.82" stroke-width="0.95" transform="translate(892.30 1115.83) rotate(-0.41) scale(1.0529 1)">Voltage</text></g>
<text class="sn" font-size="23.97" stroke-width="1.05" transform="translate(513.77 1159.17) rotate(-0.41) scale(1.0179 1)">IDLE</text>
<text class="sn" font-size="23.97" stroke-width="1.05" transform="translate(844.05 1157.42) rotate(-0.41) scale(1.0165 1)">.60</text>
<g><text class="sn" font-size="23.97" stroke-width="1.05" transform="translate(509.75 1200.42) rotate(-0.41) scale(1.0581 1)">20</text> <text class="sn" font-size="23.97" stroke-width="1.05" transform="translate(550.90 1200.22) rotate(-0.41) scale(1.0221 1)">mph</text></g>
<text class="sn" font-size="23.97" stroke-width="1.05" transform="translate(838.68 1198.67) rotate(-0.41) scale(1.0126 1)">1.10</text>
<g><text class="sn" font-size="23.97" stroke-width="1.05" transform="translate(510.46 1241.92) rotate(-0.41) scale(1.0306 1)">40</text> <text class="sn" font-size="23.97" stroke-width="1.05" transform="translate(550.90 1241.72) rotate(-0.41) scale(1.0221 1)">mph</text></g>
<text class="sn" font-size="23.97" stroke-width="1.05" transform="translate(838.68 1240.42) rotate(-0.41) scale(1.0126 1)">1.70</text>
<g><text class="sn" font-size="23.97" stroke-width="1.05" transform="translate(509.74 1283.17) rotate(-0.41) scale(1.0587 1)">60</text> <text class="sn" font-size="23.97" stroke-width="1.05" transform="translate(550.90 1282.97) rotate(-0.41) scale(1.0221 1)">mph</text></g>
<text class="sn" font-size="23.97" stroke-width="1.05" transform="translate(838.04 1282.42) rotate(-0.41) scale(1.0266 1)">2.10</text>
</g>
</svg>
</body>
</html>
